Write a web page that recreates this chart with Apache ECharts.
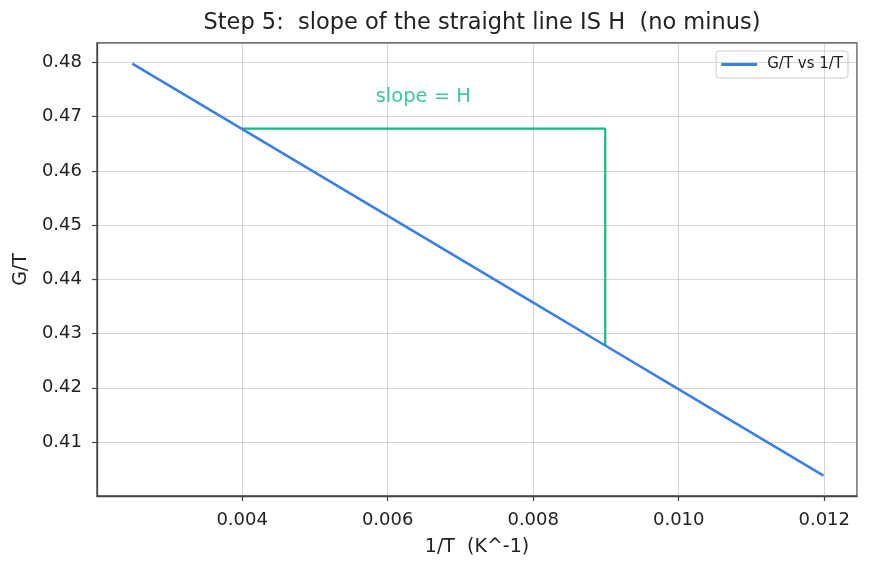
<!DOCTYPE html>
<html><head><meta charset="utf-8">
<script src="https://cdn.jsdelivr.net/npm/echarts@6/dist/echarts.min.js"></script>
<style>html,body{margin:0;padding:0;background:#fff}#c{width:871px;height:569px}</style>
</head><body><div id="c"></div>
<script>
const invT = [0.0025, 0.004, 0.006, 0.008, 0.009, 0.010, 0.012];
const gOverT = [0.480, 0.468, 0.452, 0.436, 0.428, 0.420, 0.404];
const triX = [0.004, 0.009, 0.009];
const triY = [0.468, 0.468, 0.428];
const noteX = 0.0065, noteY = 0.4739, noteText = 'slope = H';
const title = 'Step 5:  slope of the straight line IS H  (no minus)';
const font = 'DejaVu Sans';
const blue = '#3b80ea', green = '#13b884';

const chart = echarts.init(document.getElementById('c'), null, {renderer:'canvas'});
chart.setOption({
  animation:false,
  textStyle:{fontFamily:font},
  title:{text:title,left:477,top:7,textAlign:'center',textStyle:{fontFamily:font,fontSize:22.5,fontWeight:'normal',color:'#222'}},
  grid:{left:97,right:14,top:43,bottom:73,show:true,borderColor:'#444',borderWidth:1.3,backgroundColor:'transparent'},
  legend:{right:23,top:51,orient:'vertical',data:['G/T vs 1/T'],icon:'rect',itemWidth:36,itemHeight:3,itemGap:8,
    borderColor:'#ccc',borderWidth:1,borderRadius:3,padding:[6,5,6,5],
    textStyle:{fontFamily:font,fontSize:15,color:'#222',padding:[0,0,0,5]}},
  xAxis:{type:'value',min:0.002015,max:0.01246,interval:0.002,name:'1/T  (K^-1)',nameLocation:'middle',nameGap:42,
    nameTextStyle:{fontFamily:font,fontSize:19,color:'#222'},
    axisLine:{show:true,lineStyle:{color:'#444',width:1.3}},
    axisTick:{show:true,length:5,lineStyle:{color:'#444',width:1.2}},
    axisLabel:{fontFamily:font,fontSize:18,color:'#222',margin:15,showMinLabel:false,showMaxLabel:false,formatter:v=>v.toFixed(3)},
    splitLine:{show:true,lineStyle:{color:'#b8b8b8',width:0.6}}},
  yAxis:{type:'value',min:0.40024,max:0.4838,interval:0.01,name:'G/T',nameLocation:'middle',nameGap:65,
    nameTextStyle:{fontFamily:font,fontSize:19,color:'#222'},
    axisLine:{show:true,lineStyle:{color:'#444',width:1.3}},
    axisTick:{show:true,length:5,lineStyle:{color:'#444',width:1.2}},
    axisLabel:{fontFamily:font,fontSize:18,color:'#222',margin:15,showMinLabel:false,showMaxLabel:false,formatter:v=>v.toFixed(2)},
    splitLine:{show:true,lineStyle:{color:'#b8b8b8',width:0.6}}},
  series:[
    {name:'G/T vs 1/T',type:'line',data:invT.map((x,i)=>[x,gOverT[i]]),showSymbol:false,lineStyle:{color:blue,width:2.6},itemStyle:{color:blue},z:3},
    {name:'tri',type:'line',data:triX.map((x,i)=>[x,triY[i]]),showSymbol:false,lineStyle:{color:green,width:2.2},itemStyle:{color:green},z:2},
    {name:'note',type:'scatter',data:[[noteX,noteY]],symbolSize:0,label:{show:true,position:'inside',formatter:noteText,fontFamily:font,fontSize:19.5,color:green}}
  ]
});
</script></body></html>
